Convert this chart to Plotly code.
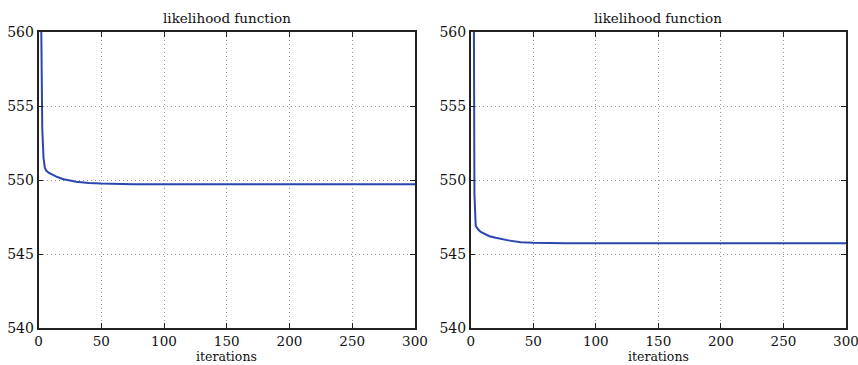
import plotly.graph_objects as go

# Iteration indices at which the likelihood was sampled
iters = [1, 2, 3, 4, 5, 6, 8, 10, 15, 20, 25, 30, 40, 50, 75, 100, 150, 200, 250, 300]

# Likelihood per iteration, first run
lik_a = [600.0, 562.0, 553.5, 551.5, 550.85, 550.65, 550.5, 550.4, 550.2, 550.05,
         549.95, 549.88, 549.8, 549.76, 549.72, 549.71, 549.71, 549.71, 549.71, 549.71]

# Likelihood per iteration, second run
lik_b = [600.0, 565.0, 549.0, 546.9, 546.75, 546.65, 546.5, 546.4, 546.2, 546.1,
         546.0, 545.92, 545.8, 545.76, 545.73, 545.72, 545.72, 545.72, 545.72, 545.72]

x_ticks = [0, 50, 100, 150, 200, 250, 300]
y_ticks = [540, 545, 550, 555, 560]
panel_title = "likelihood function"
x_title = "iterations"

FONT = "DejaVu Serif"
LINE_COLOR = "#2a47ad"
TEXT = "#111111"

fig = go.Figure()
fig.add_trace(go.Scatter(x=iters, y=lik_a, mode="lines",
                         line=dict(color=LINE_COLOR, width=2),
                         xaxis="x", yaxis="y", showlegend=False))
fig.add_trace(go.Scatter(x=iters, y=lik_b, mode="lines",
                         line=dict(color=LINE_COLOR, width=2),
                         xaxis="x2", yaxis="y2", showlegend=False))

W, H = 858, 365
y_dom = [1 - 328 / H, 1 - 32 / H]
left_dom = [38.5 / W, 415 / W]
right_dom = [470.7 / W, 846 / W]

GRID = dict(showgrid=True, gridcolor="#9a9a9a", griddash="1px,3px", gridwidth=1)
FRAME = dict(showline=True, linecolor="#222222", linewidth=1.5, mirror="ticks",
             ticks="inside", ticklen=5, tickcolor="#222222", tickwidth=1,
             zeroline=False, automargin=False, ticklabeloverflow="allow")


def xaxis_cfg(dom, anchor):
    return dict(domain=dom, anchor=anchor, range=[0, 300], tickvals=x_ticks,
                ticklabelstandoff=0,
                tickfont=dict(family=FONT, size=13.5, color=TEXT),
                **GRID, **FRAME)


def yaxis_cfg(anchor):
    return dict(domain=y_dom, anchor=anchor, range=[540, 560], tickvals=y_ticks,
                ticklabelstandoff=0,
                tickfont=dict(family=FONT, size=14, color=TEXT),
                **GRID, **FRAME)


def panel_labels(dom):
    cx = (dom[0] + dom[1]) / 2
    return [
        dict(text=panel_title, x=cx, y=y_dom[1],
             xref="paper", yref="paper", xanchor="center", yanchor="bottom",
             yshift=4, showarrow=False,
             font=dict(family=FONT, size=13.5, color=TEXT)),
        dict(text=x_title, x=cx, y=1 - 347.5 / H,
             xref="paper", yref="paper", xanchor="center", yanchor="top",
             showarrow=False, borderpad=0,
             font=dict(family=FONT, size=12.5, color=TEXT)),
    ]


fig.update_layout(
    width=W, height=H,
    margin=dict(l=0, r=0, t=0, b=0),
    paper_bgcolor="white", plot_bgcolor="white",
    xaxis=xaxis_cfg(left_dom, "y"),
    yaxis=yaxis_cfg("x"),
    xaxis2=xaxis_cfg(right_dom, "y2"),
    yaxis2=yaxis_cfg("x2"),
    annotations=panel_labels(left_dom) + panel_labels(right_dom),
)

fig.write_html("out.html")
